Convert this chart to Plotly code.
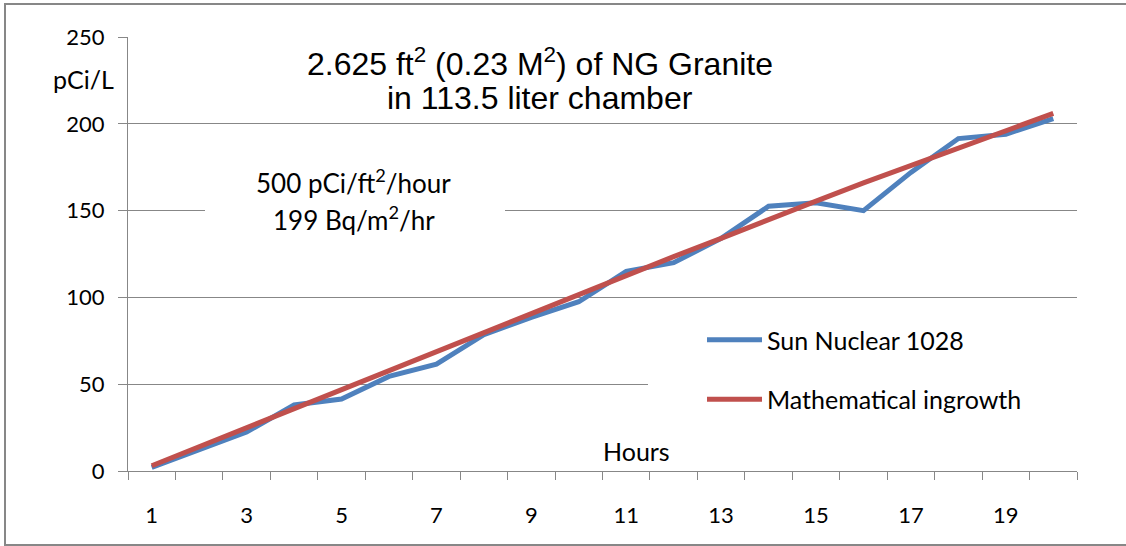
import plotly.graph_objects as go

# ---- data ----
hours = list(range(1, 21))
hour_labels = ["1", "3", "5", "7", "9", "11", "13", "15", "17", "19"]
hour_label_vals = [1, 3, 5, 7, 9, 11, 13, 15, 17, 19]
sun_nuclear = [2, 12.5, 22.5, 38, 41.5, 54.5, 61.5, 78.5, 88.5, 97.5,
               115, 120, 134, 152.5, 154.5, 150, 172, 191.5, 194, 203]
math_ingrowth = [3, 14, 25, 36, 47, 58, 69, 80, 91, 101.5,
                 112.5, 123.5, 134, 145, 155.5, 166, 176, 186.5, 196, 206]
y_ticks = [0, 50, 100, 150, 200, 250]

# ---- layout geometry (pixels) ----
W, H = 1126, 546
L, R, T, B = 128, 1077, 37, 471
PW, PH = R - L, B - T


def px(x):
    return (x - L) / PW


def py(y):
    return (B - y) / PH


GRID = "#878787"
BLUE = "#4F81BD"
RED = "#C0504D"
FONT = "Lato"

fig = go.Figure()
fig.add_trace(go.Scatter(x=hours, y=sun_nuclear, mode="lines", name="Sun Nuclear 1028",
                         legendgroup="a", line=dict(color=BLUE, width=5)))
fig.add_trace(go.Scatter(x=hours, y=math_ingrowth, mode="lines", name="Mathematical ingrowth",
                         legendgroup="b", line=dict(color=RED, width=5)))

boundaries = [h - 0.5 for h in hours] + [hours[-1] + 0.5]

fig.update_layout(
    width=W, height=H, autosize=False,
    margin=dict(l=L, r=W - R, t=T, b=H - B, pad=0),
    paper_bgcolor="white", plot_bgcolor="white",
    font=dict(family=FONT, size=22, color="black"),
    showlegend=True,
    legend=dict(x=px(702), xanchor="left", y=py(317), yanchor="top",
                bgcolor="rgba(0,0,0,0)", borderwidth=0,
                font=dict(family=FONT, size=25, color="black"),
                traceorder="grouped", tracegroupgap=24, itemwidth=55),
    xaxis=dict(range=[0.5, 20.5], tickmode="array", tickvals=hour_label_vals, ticktext=hour_labels,
               ticks="", showgrid=False, zeroline=False, showline=True, linecolor=GRID, linewidth=1.3,
               tickfont=dict(family=FONT, size=22, color="black"), ticklabelstandoff=24,
               minor=dict(tickmode="array", tickvals=boundaries, ticks="outside", ticklen=8,
                          tickcolor=GRID, tickwidth=1.3, showgrid=False)),
    yaxis=dict(range=[0, 250], tickmode="array", tickvals=y_ticks, ticks="outside", ticklen=9,
               tickcolor=GRID, tickwidth=1.3, showgrid=True, gridcolor=GRID, gridwidth=1.3,
               zeroline=False, showline=True, linecolor=GRID, linewidth=1.3,
               tickfont=dict(family=FONT, size=22, color="black"), ticklabelstandoff=9),
)

# white text boxes hiding gridlines (no data passes through these areas)
fig.add_shape(type="rect", xref="paper", yref="paper",
              x0=px(205), x1=px(505), y0=py(245), y1=py(158),
              line=dict(width=0), fillcolor="white", layer="above")
fig.add_shape(type="rect", xref="paper", yref="paper",
              x0=px(648), x1=px(R + 1), y0=py(425), y1=py(312),
              line=dict(width=0), fillcolor="white", layer="above")
# outer chart border (right edge lies outside the picture)
fig.add_shape(type="rect", xref="paper", yref="paper",
              x0=px(5), x1=px(1140), y0=py(545), y1=py(4),
              line=dict(color=GRID, width=2), fillcolor="rgba(0,0,0,0)", layer="above")


def note(text, x, y, family, size):
    fig.add_annotation(xref="paper", yref="paper", x=px(x), y=py(y), xanchor="center",
                       yanchor="middle", text=text, showarrow=False, align="center",
                       font=dict(family=family, size=size, color="black"))


note("2.625 ft<sup>2</sup> (0.23 M<sup>2</sup>) of NG Granite", 540, 62, "Liberation Sans", 32)
note("in 113.5 liter chamber", 540, 98, "Liberation Sans", 32)
note("500 pCi/ft<sup>2</sup>/hour", 353, 181, FONT, 26)
note("199 Bq/m<sup>2</sup>/hr", 354, 218, FONT, 26)
note("pCi/L", 83, 79, FONT, 25)
note("Hours", 636, 451, FONT, 25)

fig.write_html("out.html", config={"displayModeBar": False},
               post_script="document.body.style.margin='0px';")
